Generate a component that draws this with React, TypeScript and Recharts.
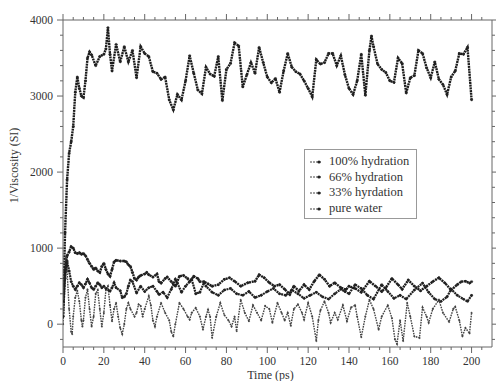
import React from "react"
import { LineChart, Line, XAxis, YAxis } from "recharts"

// [time (ps), 1/viscosity (SI)]
const pureWater: [number, number][] = [
    [0, 100], [1, 1200], [2, 1900], [3, 2250], [4, 2400], [5, 2600], [6, 3050], [7, 3250],
    [8, 3100], [9, 3000], [10, 2980], [11, 3200], [12, 3500], [13, 3580], [14, 3540],
    [16, 3400], [18, 3520], [20, 3550], [21, 3620], [22, 3900], [23, 3550], [24, 3330],
    [26, 3680], [28, 3450], [30, 3650], [32, 3450], [34, 3600], [36, 3240], [38, 3650],
    [40, 3560], [42, 3520], [44, 3320], [46, 3300], [48, 3220], [50, 3250], [52, 2950],
    [54, 2820], [56, 3020], [58, 2950], [60, 3200], [62, 3530], [64, 3300], [66, 3080],
    [68, 3030], [70, 3380], [72, 3290], [74, 3260], [76, 3520], [78, 2940], [80, 3350],
    [82, 3430], [84, 3700], [86, 3660], [88, 3120], [90, 3280], [92, 3440], [94, 3300],
    [96, 3640], [98, 3440], [100, 3250], [102, 3175], [104, 3230], [106, 3050], [108, 3330],
    [110, 3560], [112, 3380], [114, 3320], [116, 3290], [118, 3200], [120, 3100], [122, 2990],
    [124, 3480], [126, 3420], [128, 3440], [130, 3560], [132, 3560], [134, 3400], [136, 3530],
    [138, 3280], [140, 3100], [142, 3020], [144, 3200], [146, 3550], [148, 3010], [150, 3600],
    [151, 3790], [152, 3650], [154, 3420], [156, 3350], [158, 3310], [160, 3200], [162, 3180],
    [164, 3500], [166, 3430], [168, 3040], [170, 3240], [172, 3270], [174, 3600], [176, 3560],
    [178, 3370], [180, 3240], [182, 3450], [184, 3220], [186, 3150], [188, 3020], [190, 3250],
    [192, 3330], [194, 3560], [196, 3550], [198, 3640], [200, 2950]
]

const hydration100: [number, number][] = [
    [0, 300], [1, 700], [2, 900], [3, 950], [4, 1020], [5, 1000], [6, 940], [7, 930], [8, 940],
    [9, 920], [10, 930], [11, 900], [12, 850], [13, 800], [14, 760], [15, 720], [16, 740],
    [17, 700], [18, 680], [19, 760], [20, 800], [21, 720], [22, 660], [23, 630], [24, 720],
    [25, 820], [26, 840], [28, 830], [30, 830], [31, 820], [32, 780], [33, 760], [34, 680],
    [35, 600], [36, 580], [37, 620], [38, 640], [40, 660], [41, 680], [42, 650], [44, 620],
    [46, 660], [47, 560], [48, 540], [50, 600], [51, 620], [53, 560], [55, 500], [57, 630],
    [59, 640], [61, 600], [62, 560], [64, 630], [66, 600], [67, 560], [69, 560], [71, 530],
    [73, 500], [76, 520], [79, 590], [81.5, 610], [84, 565], [87, 500], [90.5, 545], [94, 565],
    [96, 650], [98.5, 610], [101, 545], [103.5, 500], [106, 520], [108.5, 460], [111, 390],
    [113, 500], [115.5, 435], [118, 520], [120.5, 455], [123, 565], [125.5, 650], [128, 590],
    [130.5, 500], [133, 545], [136, 480], [138.5, 455], [140, 500], [143, 470], [146, 420],
    [150, 565], [153, 500], [156, 430], [158, 480], [161, 600], [164, 520], [166, 460],
    [169, 580], [172, 500], [175, 440], [178, 500], [181, 560], [184, 610], [187, 540],
    [190, 450], [193, 520], [195, 560], [197, 565], [199, 540], [200, 560]
]

const hydration66: [number, number][] = [
    [0, 100], [1, 600], [2, 830], [3, 700], [4, 560], [5, 500], [6, 456], [7, 500], [8, 545],
    [9, 520], [10, 480], [11, 530], [12, 590], [13, 540], [14, 480], [15, 456], [16, 500],
    [17, 545], [18, 520], [19, 480], [20, 500], [21, 470], [23, 435], [24, 480], [25, 545],
    [26, 480], [28, 440], [29, 350], [30, 360], [31, 400], [32, 500], [33, 580], [34, 560],
    [36, 410], [38, 500], [40, 430], [42, 480], [44, 500], [46, 430], [47, 390], [49, 420],
    [51, 350], [53, 460], [55, 590], [56, 540], [58, 420], [60, 500], [63, 590], [65, 400],
    [67, 420], [69, 545], [70, 500], [73, 420], [76, 380], [79, 450], [82, 470], [85, 400],
    [88, 380], [91, 430], [94, 350], [97, 380], [100, 430], [103, 470], [106, 400], [109, 380],
    [112, 450], [115, 400], [118, 340], [121, 380], [124, 420], [127, 360], [130, 330],
    [133, 400], [136, 460], [138, 430], [140, 400], [143, 520], [146, 470], [149, 380],
    [152, 330], [156, 520], [159, 430], [162, 340], [165, 380], [168, 330], [172, 450],
    [176, 540], [179, 420], [182, 330], [185, 300], [188, 360], [190, 460], [193, 380],
    [196, 330], [198, 300], [200, 380]
]

const hydration33: [number, number][] = [
    [0, 0], [1, 600], [1.5, 880], [2, 700], [3, 200], [4, -100], [4.5, -130], [5, 100],
    [6, 350], [7, 440], [8, 300], [9, 50], [9.5, -30], [10, 50], [11, 350], [12, 456],
    [13, 200], [14, -30], [15, 100], [16, 400], [17, 450], [18, 200], [19, -30], [20, 150],
    [21, 450], [22, 500], [23, 250], [24, 40], [25, 200], [26, 280], [27, 100], [28, -50],
    [29, -130], [30, 0], [31, 200], [32, 280], [33, 200], [35, 100], [36, 150], [37, 260],
    [38, 240], [39, 100], [40, 200], [42, 370], [43, 250], [44, 50], [45, -30], [46, 100],
    [48, 280], [50, 150], [52, 50], [53, -100], [54, -160], [55, 0], [57, 280], [59, 200],
    [61, 100], [62, 60], [63, 150], [65, 215], [67, 100], [68.5, -70], [70, 100], [71, 190],
    [72, 100], [73, -180], [75, 100], [77, 280], [79, 120], [81, 50], [82.5, -30], [84, 100],
    [85, -90], [87, 320], [89, 150], [91, 40], [93, 250], [95, 150], [97, 50], [99, 240],
    [101, 200], [102.5, 20], [105, 280], [107, 150], [108.5, 50], [110, 150], [111.5, -20],
    [113, 200], [115, 260], [117, 150], [118, 60], [120, 280], [122, 100], [124, -220],
    [125, 50], [126, 180], [128, 300], [130, 150], [131, 20], [133, 150], [134.5, 60],
    [137, 250], [139, 40], [141, 220], [143, 250], [144, 100], [146, -170], [148, 100],
    [150, 320], [152, 200], [154.5, -70], [156, 100], [159, 250], [161, 80], [162.5, -200],
    [163.5, -260], [165, 50], [166.5, -220], [168.5, 280], [170, 100], [172, -160],
    [174.5, -180], [176, 220], [178, 100], [179, 20], [181, 200], [184, 320], [186, 150],
    [189, 30], [191, 200], [192, 230], [194, 50], [195.5, -160], [197, -50], [199, -120],
    [200, 150]
]

const xTicks = [0, 5, 10, 15, 20, 25, 30, 35, 40, 45, 50, 55, 60, 65, 70, 75, 80, 85, 90, 95,
    100, 105, 110, 115, 120, 125, 130, 135, 140, 145, 150, 155, 160, 165, 170, 175, 180, 185,
    190, 195, 200, 205]
const yTicks = [-200, 0, 200, 400, 600, 800, 1000, 1200, 1400, 1600, 1800, 2000, 2200, 2400,
    2600, 2800, 3000, 3200, 3400, 3600, 3800, 4000]

const legendItems = ["100% hydration", "66% hydration", "33% hyrdation", "pure water"]

const FONT = "Liberation Serif, Times New Roman, Tinos, DejaVu Serif, serif"
const AXIS = "#666"
const TEXT = "#333"

const toPoints = (rows: [number, number][]) => rows.map(([t, v]) => ({ t, v }))

function BottomTick({ x, y, payload }: any) {
    const major = payload.value % 20 === 0
    return (
        <g>
            <line x1={x} x2={x} y1={y} y2={y + (major ? 6 : 3)} stroke={AXIS} />
            {major && (
                <text x={x} y={y + 18} textAnchor="middle" fontSize={11.5} fontFamily={FONT} fill={TEXT}>
                    {payload.value}
                </text>
            )}
        </g>
    )
}

function TopTick({ x, y, payload }: any) {
    const major = payload.value % 20 === 0
    return <line x1={x} x2={x} y1={y} y2={y - (major ? 6 : 3)} stroke={AXIS} />
}

function LeftTick({ x, y, payload }: any) {
    const major = payload.value % 1000 === 0
    return (
        <g>
            <line x1={x} x2={x - (major ? 6 : 3)} y1={y} y2={y} stroke={AXIS} />
            {major && (
                <text x={x - 10} y={y + 4} textAnchor="end" fontSize={11.5} fontFamily={FONT} fill={TEXT}>
                    {payload.value}
                </text>
            )}
        </g>
    )
}

function RightTick({ x, y, payload }: any) {
    const major = payload.value % 1000 === 0
    return <line x1={x} x2={x + (major ? 6 : 3)} y1={y} y2={y} stroke={AXIS} />
}

function LegendBox() {
    return (
        <div
            style={{
                position: "absolute",
                left: 304,
                top: 149,
                width: 113,
                height: 70,
                border: "1px solid #999",
                background: "#fff",
                fontFamily: FONT,
                fontSize: 12.5,
                color: TEXT,
                padding: "4px 0 0 4px",
                boxSizing: "border-box"
            }}
        >
            {legendItems.map((name) => (
                <div key={name} style={{ height: 15.6, display: "flex", alignItems: "center", whiteSpace: "nowrap" }}>
                    <svg width={14} height={8} style={{ marginRight: 6 }}>
                        <line x1={1} x2={12} y1={4} y2={4} stroke="#444" strokeWidth={1} strokeDasharray="2 1" />
                        <circle cx={10} cy={4} r={1.6} fill="#222" />
                    </svg>
                    {name}
                </div>
            ))}
        </div>
    )
}

export default function App() {
    const dot = { r: 1.2, fill: "#222", stroke: "#222", strokeWidth: 0.4 }
    return (
        <div style={{ position: "fixed", left: 0, top: 0, width: 496, height: 381, background: "#fff", fontFamily: FONT }}>
            <LineChart width={496} height={381} margin={{ top: 0, right: 0, bottom: 0, left: 0 }}>
                <XAxis
                    xAxisId="bottom"
                    dataKey="t"
                    type="number"
                    domain={[0, 210]}
                    ticks={xTicks}
                    tickSize={0}
                    tickMargin={0}
                    tick={<BottomTick />}
                    axisLine={{ stroke: AXIS }}
                    height={34}
                    interval={0}
                    allowDataOverflow
                    label={(props: any) => {
                        const vb = props.viewBox
                        return (
                            <text x={vb.x + vb.width / 2 - 7} y={vb.y + 32} textAnchor="middle" fontSize={12} fontFamily={FONT} fill={TEXT}>
                                Time (ps)
                            </text>
                        )
                    }}
                />
                <XAxis
                    xAxisId="top"
                    orientation="top"
                    dataKey="t"
                    type="number"
                    domain={[0, 210]}
                    ticks={xTicks}
                    tickSize={0}
                    tickMargin={0}
                    tick={<TopTick />}
                    axisLine={{ stroke: AXIS }}
                    height={20}
                    interval={0}
                    allowDataOverflow
                />
                <YAxis
                    yAxisId="left"
                    type="number"
                    domain={[-300, 4000]}
                    ticks={yTicks}
                    tickSize={0}
                    tickMargin={0}
                    tick={<LeftTick />}
                    axisLine={{ stroke: AXIS }}
                    width={63}
                    interval={0}
                    allowDataOverflow
                    label={(props: any) => {
                        const vb = props.viewBox
                        const cy = vb.y + vb.height / 2 - 18
                        return (
                            <text x={18} y={cy} transform={`rotate(-90, 18, ${cy})`} textAnchor="middle" fontSize={12} fontFamily={FONT} fill={TEXT}>
                                1/Viscosity (SI)
                            </text>
                        )
                    }}
                />
                <YAxis
                    yAxisId="right"
                    orientation="right"
                    type="number"
                    domain={[-300, 4000]}
                    ticks={yTicks}
                    tickSize={0}
                    tickMargin={0}
                    tick={<RightTick />}
                    axisLine={{ stroke: AXIS }}
                    width={4}
                    interval={0}
                    allowDataOverflow
                />
                <Line
                    xAxisId="top"
                    yAxisId="right"
                    data={toPoints(pureWater)}
                    dataKey="v"
                    stroke="none"
                    dot={false}
                    legendType="none"
                    isAnimationActive={false}
                />
                <Line
                    xAxisId="bottom"
                    yAxisId="left"
                    data={toPoints(hydration33)}
                    dataKey="v"
                    stroke="#444"
                    strokeWidth={1.4}
                    strokeDasharray="1.6 1"
                    dot={{ r: 0.9, fill: "#444", stroke: "#444", strokeWidth: 0.3 }}
                    isAnimationActive={false}
                />
                <Line
                    xAxisId="bottom"
                    yAxisId="left"
                    data={toPoints(hydration66)}
                    dataKey="v"
                    stroke="#222"
                    strokeWidth={2.2}
                    strokeDasharray="2 0.7"
                    dot={dot}
                    isAnimationActive={false}
                />
                <Line
                    xAxisId="bottom"
                    yAxisId="left"
                    data={toPoints(hydration100)}
                    dataKey="v"
                    stroke="#1c1c1c"
                    strokeWidth={2.4}
                    strokeDasharray="2 0.7"
                    dot={dot}
                    isAnimationActive={false}
                />
                <Line
                    xAxisId="bottom"
                    yAxisId="left"
                    data={toPoints(pureWater)}
                    dataKey="v"
                    stroke="#1c1c1c"
                    strokeWidth={2.4}
                    strokeDasharray="2 0.7"
                    dot={dot}
                    isAnimationActive={false}
                />
            </LineChart>
            <LegendBox />
        </div>
    )
}
